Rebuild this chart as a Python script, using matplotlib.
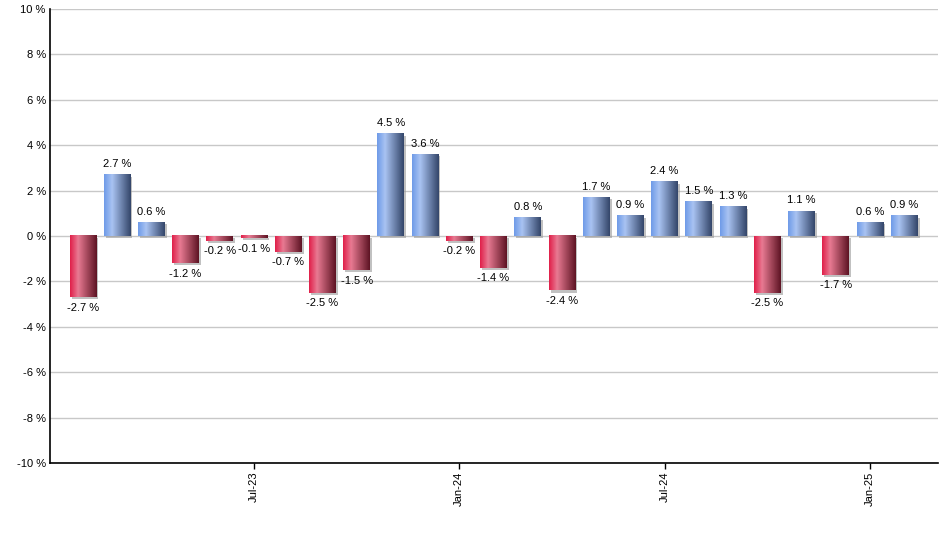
import numpy as np
import matplotlib.pyplot as plt
from matplotlib.colors import LinearSegmentedColormap
from matplotlib import patheffects

plt.rcParams['font.family'] = ['Liberation Sans', 'DejaVu Sans']

# monthly returns, Feb-23 .. Feb-25
months = ['Feb-23', 'Mar-23', 'Apr-23', 'May-23', 'Jun-23', 'Jul-23', 'Aug-23',
          'Sep-23', 'Oct-23', 'Nov-23', 'Dec-23', 'Jan-24', 'Feb-24', 'Mar-24',
          'Apr-24', 'May-24', 'Jun-24', 'Jul-24', 'Aug-24', 'Sep-24', 'Oct-24',
          'Nov-24', 'Dec-24', 'Jan-25', 'Feb-25']
returns = [-2.7, 2.7, 0.6, -1.2, -0.2, -0.1, -0.7, -2.5, -1.5, 4.5, 3.6, -0.2,
           -1.4, 0.8, -2.4, 1.7, 0.9, 2.4, 1.5, 1.3, -2.5, 1.1, -1.7, 0.6, 0.9]
tick_labels = ['Jul-23', 'Jan-24', 'Jul-24', 'Jan-25']

blue_cmap = LinearSegmentedColormap.from_list(
    'b', [(0, '#6f9be8'), (0.3, '#a9c3f2'), (1, '#34466a')])
red_cmap = LinearSegmentedColormap.from_list(
    'r', [(0, '#e0204a'), (0.3, '#e87a92'), (1, '#5e1424')])
grad = np.linspace(0, 1, 64).reshape(1, -1)

fig = plt.figure(figsize=(9.4, 5.5), dpi=100)
ax = fig.add_axes([50 / 940, 1 - 463 / 550, 888 / 940, 454 / 550])

x = np.arange(len(returns))
width = 0.78
bars = ax.bar(x, returns, width=width, color='none', zorder=3,
              path_effects=[patheffects.SimplePatchShadow(offset=(1.5, -1.5),
                                                          shadow_rgbFace='#999999',
                                                          alpha=0.6)])
for xi, v in zip(x, returns):
    cmap = blue_cmap if v >= 0 else red_cmap
    ax.imshow(grad, cmap=cmap, aspect='auto', interpolation='bilinear',
              extent=(xi - width / 2, xi + width / 2, min(0, v), max(0, v)),
              zorder=4)
    label = f'{v:.1f} %'
    if v >= 0:
        ax.annotate(label, (xi, v), xytext=(0, 4), textcoords='offset points',
                    ha='center', va='bottom', fontsize=8, zorder=5)
    else:
        ax.annotate(label, (xi, v), xytext=(0, -4), textcoords='offset points',
                    ha='center', va='top', fontsize=8, zorder=5)

ax.set_xlim(-0.96, 24.99)
ax.set_ylim(-10, 10)
ax.set_yticks(np.arange(-10, 11, 2))
ax.set_yticklabels([f'{t} %' for t in range(-10, 11, 2)], fontsize=8)
ax.yaxis.grid(True, color='#c8c8c8', linewidth=1, zorder=0)
ax.tick_params(axis='y', length=0, pad=3)

ax.set_xticks([months.index(t) for t in tick_labels])
ax.set_xticklabels(tick_labels, rotation=90, fontsize=8)
ax.tick_params(axis='x', length=4, width=1, color='black', pad=2)

for s in ['top', 'right']:
    ax.spines[s].set_visible(False)
ax.spines['left'].set_color('black')
ax.spines['bottom'].set_color('black')
ax.spines['left'].set_linewidth(1.2)
ax.spines['bottom'].set_linewidth(1.2)

fig.savefig('out.png', dpi=100)
